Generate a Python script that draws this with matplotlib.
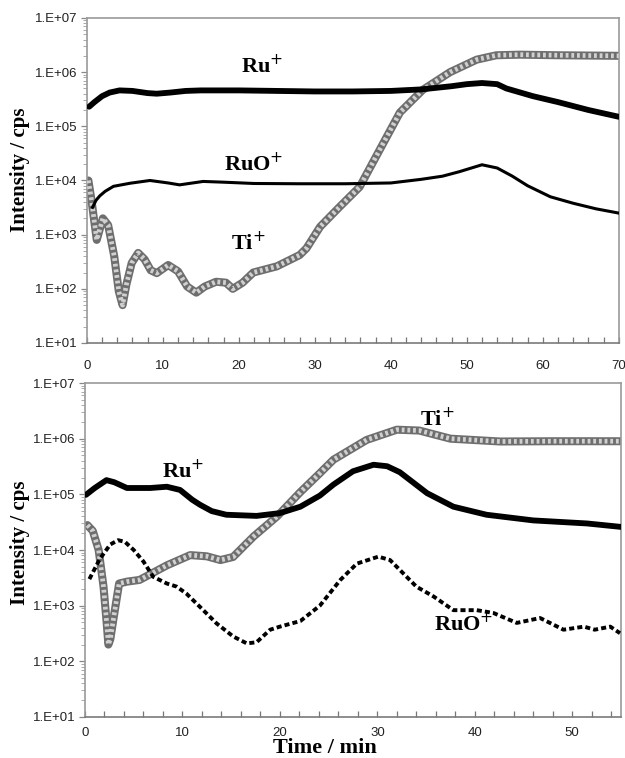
import math
import matplotlib
matplotlib.use("Agg")
import matplotlib.pyplot as plt
from matplotlib.ticker import FuncFormatter, FixedLocator, MultipleLocator, NullFormatter

# ---------------- data: top panel ----------------
top_ru_t = [0.3, 1, 2, 3, 4.3, 6, 8, 9.2, 11, 13, 15, 20, 25, 30, 35, 40, 44, 48, 50, 52, 54, 55.2, 58.7, 62, 66, 70]
top_ru_v = [2.3e5, 2.8e5, 3.6e5, 4.2e5, 4.6e5, 4.5e5, 4.1e5, 4.0e5, 4.2e5, 4.5e5, 4.6e5, 4.6e5, 4.5e5, 4.4e5,
            4.4e5, 4.5e5, 4.8e5, 5.5e5, 6.0e5, 6.3e5, 6.0e5, 5.0e5, 3.6e5, 2.8e5, 2.0e5, 1.5e5]

top_ruo_t = [0.75, 1.2, 1.7, 2.4, 3.5, 5.7, 8.3, 10.7, 12.2, 15.3, 18, 22, 28, 34, 40, 44, 46.8, 49, 52, 54,
             56, 58, 61, 64, 67, 70]
top_ruo_v = [3.2e3, 4.3e3, 5.2e3, 6.3e3, 7.8e3, 8.9e3, 1.0e4, 9.0e3, 8.3e3, 9.6e3, 9.3e3, 8.8e3, 8.7e3, 8.7e3,
             9.0e3, 1.05e4, 1.2e4, 1.45e4, 1.95e4, 1.7e4, 1.2e4, 8e3, 5e3, 3.8e3, 3.0e3, 2.5e3]

top_ti_t = [0.2, 0.6, 1.3, 2.1, 2.8, 3.6, 4.2, 4.7, 5.2, 5.9, 6.75, 7.6, 8.4, 9.2, 10.7, 12, 13.2, 14.4, 15.5,
            17, 18.3, 19.2, 20.5, 21.9, 25, 28, 28.9, 30.7, 33.3, 35.9, 38.5, 41.2, 44.2, 47.8, 51.3, 53.9,
            57, 62, 70]
top_ti_v = [1e4, 4.4e3, 8e2, 2e3, 1.5e3, 4e2, 9e1, 5e1, 1.2e2, 3e2, 4.6e2, 3.5e2, 2.2e2, 1.95e2, 2.75e2, 2.1e2,
            1.1e2, 8.5e1, 1.1e2, 1.35e2, 1.3e2, 1.0e2, 1.3e2, 2.0e2, 2.6e2, 4.2e2, 5.6e2, 1.4e3, 3.3e3, 7.6e3,
            3.6e4, 1.8e5, 4.7e5, 1.0e6, 1.7e6, 2.05e6, 2.1e6, 2.05e6, 2.0e6]

# ---------------- data: bottom panel ----------------
bot_ru_t = [0.1, 1, 2.2, 3, 4.3, 6.7, 8.4, 9.75, 11, 11.8, 13, 14.5, 17.6, 20, 22.1, 24.1, 25.5, 27.5, 29.6,
            31, 32.3, 35.1, 37.8, 41.2, 46, 51.5, 55]
bot_ru_v = [9.8e4, 1.3e5, 1.8e5, 1.65e5, 1.3e5, 1.3e5, 1.37e5, 1.2e5, 8e4, 6.5e4, 5.0e4, 4.3e4, 4.1e4, 4.6e4,
            6e4, 9.5e4, 1.5e5, 2.6e5, 3.4e5, 3.2e5, 2.5e5, 1.05e5, 6e4, 4.3e4, 3.4e4, 3.0e4, 2.6e4]

bot_ti_t = [0.25, 0.8, 1.4, 1.9, 2.2, 2.4, 2.6, 2.9, 3.5, 4.3, 5.6, 8.4, 10.8, 12.5, 13.9, 15.2, 17.3, 19.7,
            22.1, 24.1, 25.5, 28.9, 32, 34.3, 37.5, 42.6, 48, 55]
bot_ti_v = [2.8e4, 2.2e4, 1e4, 2.2e3, 5.5e2, 2e2, 2.5e2, 5.5e2, 2.5e3, 2.7e3, 2.9e3, 5.3e3, 8.1e3, 7.7e3,
            6.6e3, 7.5e3, 1.75e4, 4e4, 1.1e5, 2.4e5, 4.2e5, 9.5e5, 1.45e6, 1.4e6, 1.0e6, 8.9e5, 9e5, 9e5]

bot_ruo_t = [0.45, 1.0, 1.5, 2.05, 2.6, 3.4, 4.1, 5.0, 6.0, 7.0, 8.4, 9.4, 10.4, 11.8, 13.5, 15.2, 16.6, 17.6,
             19, 20, 22.1, 24.1, 26.2, 27.9, 30.1, 31.3, 32.3, 34, 35.8, 37.8, 40.2, 41.9, 44.3, 46.7, 49.1,
             51.2, 52.3, 53.9, 54.9]
bot_ruo_v = [3e3, 4.6e3, 6.8e3, 9.3e3, 1.26e4, 1.5e4, 1.4e4, 1e4, 6.2e3, 3.3e3, 2.5e3, 2.2e3, 1.65e3, 9.5e2,
             4.8e2, 2.8e2, 2.1e2, 2.2e2, 3.7e2, 4.2e2, 5.3e2, 1e3, 2.9e3, 5.7e3, 7.6e3, 6.6e3, 4.4e3, 2.2e3,
             1.45e3, 8.3e2, 8.3e2, 7.4e2, 4.9e2, 6e2, 3.7e2, 4.2e2, 3.7e2, 4.2e2, 3.2e2]

top_xticks = [0, 10, 20, 30, 40, 50, 60, 70]
bot_xticks = [0, 10, 20, 30, 40, 50]
y_major = [1e1, 1e2, 1e3, 1e4, 1e5, 1e6, 1e7]

SERIF = ["Liberation Serif", "DejaVu Serif"]
SANS = ["Liberation Sans", "DejaVu Sans"]

fig = plt.figure(figsize=(6.25, 7.58), dpi=100)
ax1 = fig.add_axes([0.139, 0.5475, 0.851, 0.4288])
ax2 = fig.add_axes([0.136, 0.0541, 0.8576, 0.4406])

y_minor = [m * d for d in y_major[:-1] for m in range(2, 10)]


def yfmt(v, pos):
    e = int(round(math.log10(v)))
    return "1.E+%02d" % e


def draw_ti(ax, t, v):
    ax.plot(t, v, color="#6e6e6e", lw=5.8, solid_capstyle="round", solid_joinstyle="round", zorder=2)
    ax.plot(t, v, color="#d0d0d0", lw=3.4, linestyle=(0, (0.6, 0.6)), zorder=3)


def style(ax, xmax, xticks, xpad, ylab_xy):
    ax.set_yscale("log")
    ax.set_ylim(1e1, 1e7)
    ax.set_xlim(0, xmax)
    ax.set_xticks(xticks)
    ax.xaxis.set_minor_locator(MultipleLocator(2))
    ax.yaxis.set_major_locator(FixedLocator(y_major))
    ax.yaxis.set_minor_locator(FixedLocator(y_minor))
    ax.yaxis.set_major_formatter(FuncFormatter(yfmt))
    ax.yaxis.set_minor_formatter(NullFormatter())
    for s in ax.spines.values():
        s.set_color("#9a9a9a")
        s.set_linewidth(1.2)
    ax.spines["bottom"].set_color("#7a7a7a")
    ax.tick_params(axis="x", which="both", direction="in", length=4, color="#777777", width=0.9,
                   labelsize=9.5, labelcolor="#222222", pad=xpad)
    ax.tick_params(axis="y", which="major", direction="out", length=4, color="#888888", width=0.9,
                   labelsize=9.5, labelcolor="#222222", pad=3)
    ax.tick_params(axis="y", which="minor", direction="out", length=3, color="#aaaaaa", width=0.7)
    for lab in ax.get_xticklabels() + ax.get_yticklabels():
        lab.set_family(SANS)
    ax.set_ylabel("Intensity / cps", family=SERIF, fontweight="bold", fontsize=15)
    ax.yaxis.set_label_coords(*ylab_xy)


lab_kw = dict(family=SERIF, fontweight="bold", fontsize=16, ha="center", va="center")

# top panel
draw_ti(ax1, top_ti_t, top_ti_v)
ax1.plot(top_ruo_t, top_ruo_v, color="black", lw=2.2, zorder=4)
ax1.plot(top_ru_t, top_ru_v, color="black", lw=4.2, solid_capstyle="round", zorder=5)
style(ax1, 70, top_xticks, 12, (-0.107, 0.532))
ax1.text(23, 1.3e6, "Ru$^{+}$", **lab_kw)
ax1.text(22, 2.0e4, "RuO$^{+}$", **lab_kw)
ax1.text(21.3, 7.0e2, "Ti$^{+}$", **lab_kw)

# bottom panel
draw_ti(ax2, bot_ti_t, bot_ti_v)
ax2.plot(bot_ruo_t, bot_ruo_v, color="black", lw=2.8, linestyle=(0, (1.3, 0.8)), zorder=4)
ax2.plot(bot_ru_t, bot_ru_v, color="black", lw=4.2, solid_capstyle="round", zorder=5)
style(ax2, 55, bot_xticks, 7, (-0.103, 0.521))
ax2.set_xlabel("Time / min", family=SERIF, fontweight="bold", fontsize=16, va="center")
ax2.xaxis.set_label_coords(0.448, -0.093)
ax2.text(10.1, 2.6e5, "Ru$^{+}$", **lab_kw)
ax2.text(36.2, 2.2e6, "Ti$^{+}$", **lab_kw)
ax2.text(38.9, 4.6e2, "RuO$^{+}$", **lab_kw)

fig.savefig("out.png", dpi=100)
